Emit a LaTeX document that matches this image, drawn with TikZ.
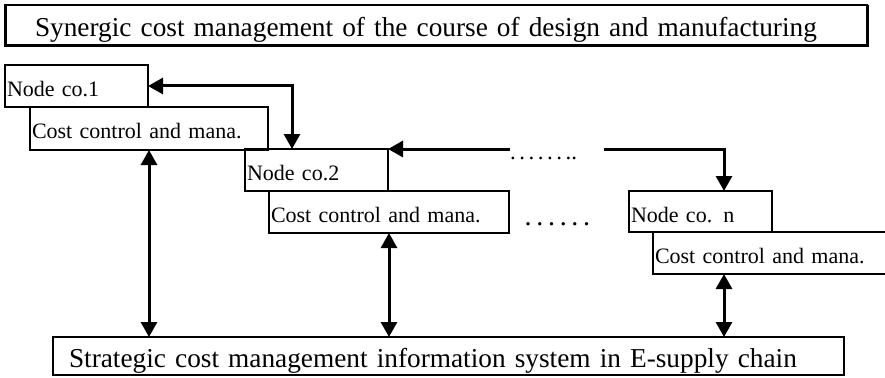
\documentclass[tikz,border=0pt]{standalone}
\usepackage{fontspec}
\setmainfont{Liberation Serif}
\usetikzlibrary{arrows.meta}
\newcommand\boxfont{\fontsize{22}{25}\selectfont}
\newcommand\bigboxfont{\fontsize{27.3}{31}\selectfont}
\begin{document}
\begin{tikzpicture}[x=1pt,y=-1pt,
  box/.style={draw, line width=1.3pt, anchor=north west, outer sep=0pt,
    inner xsep=2pt, inner ysep=0pt, align=left,
    font=\boxfont, text height=21pt, text depth=0pt},
  bigbox/.style={box, font=\bigboxfont, text height=22pt},
  arr/.style={line width=3pt, arrows={-Triangle[length=15pt,width=16pt]}},
  darr/.style={line width=3pt, arrows={Triangle[length=15pt,width=16pt]-Triangle[length=15pt,width=16pt]}},
  dotsA/.style={anchor=base west, inner sep=0pt, font=\fontsize{23}{26}\selectfont},
  dotsB/.style={anchor=base west, inner sep=0pt, font=\fontsize{28}{32}\selectfont}]
\useasboundingbox (0,0) rectangle (885,377);
% top box
\node[bigbox, inner xsep=30pt, text width=802pt, minimum height=41pt] (top) at (5,5)
  {Synergic cost management of the course of design and manufacturing};
\draw[line width=3pt] (top.north west) -- (top.south west) -- (top.south east) -- (top.north east);
% node boxes
\node[box, text width=139pt, minimum height=42pt] (n1) at (5,65) {Node co.1};
\node[box, text width=234pt, minimum height=43pt] (c1) at (30,107) {Cost control and mana.};
\node[box, text width=139pt, minimum height=42pt] (n2) at (245,149) {Node co.2};
\node[box, text width=236pt, minimum height=42pt] (c2) at (269,191) {Cost control and mana.};
\node[box, text width=139pt, minimum height=41pt] (nn) at (629,191) {Node co. n};
\node[box, text width=246pt, minimum height=42pt] (cn) at (653,232) {Cost control and mana.};
% bottom box
\node[bigbox, line width=1.8pt, inner xsep=16pt, text width=759pt, minimum height=38pt] (bot) at (53,337)
  {Strategic cost management information system in E-supply chain};
% dots
\node[dotsA] (d1) at (510,159) {.\hspace{3.5pt}.\hspace{3.5pt}.\hspace{3.5pt}.\hspace{3.5pt}.\hspace{3.5pt}.\hspace{3.5pt}..};
\node[dotsB] (d2) at (524.5,225) {.\hspace{4.7pt}.\hspace{4.7pt}.\hspace{4.7pt}.\hspace{4.7pt}.\hspace{4.7pt}.};
% connectors
\coordinate (t1) at (292,149);
\draw[darr] (n1.east) -| (t1);
\coordinate (b0) at (510,149);
\draw[arr] (b0) -- (n2.north east);
\coordinate (c0) at (604,149);
\coordinate (t3) at (724,191);
\draw[arr] (c0) -| (t3);
\draw[darr] (c1.south) -- (c1.south |- bot.north);
\draw[darr] (c2.south) -- (c2.south |- bot.north);
\coordinate (e3) at (724,274);
\draw[darr] (e3) -- (e3 |- bot.north);
\end{tikzpicture}
\end{document}
